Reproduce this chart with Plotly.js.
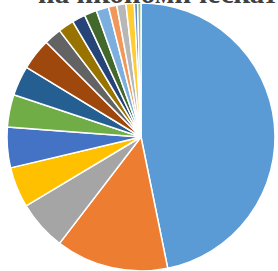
<!DOCTYPE html>
<html>
<head>
<meta charset="utf-8">
<script src="https://cdn.plot.ly/plotly-3.0.1.min.js"></script>
<style>
html,body{margin:0;padding:0;overflow:hidden;background:#fff;}
#chart{width:278px;height:271px;}
</style>
</head>
<body>
<div id="chart"></div>
<script>
const categories = [
  "Сектор 1","Сектор 2","Сектор 3","Сектор 4","Сектор 5","Сектор 6",
  "Сектор 7","Сектор 8","Сектор 9","Сектор 10","Сектор 11","Сектор 12",
  "Сектор 13","Сектор 14","Сектор 15","Сектор 16","Сектор 17","Сектор 18"
];
const values = [46.8, 13.6, 6.0, 4.9, 4.9, 3.9, 3.6, 3.8, 2.1, 1.9, 1.6, 1.5, 1.5, 1.0, 1.1, 1.0, 0.4, 0.4];
const colors = [
  "#5B9BD5","#ED7D31","#A5A5A5","#FFC000","#4472C4","#70AD47",
  "#255E91","#9E480E","#636363","#997300","#264478","#43682B",
  "#7CAFDD","#F1975A","#B7B7B7","#FFCD33","#698ED0","#8CC168"
];
const titleText = "на икономическата дейност";

const W = 278, H = 271;
const trace = {
  type: "pie",
  labels: categories,
  values: values,
  sort: false,
  direction: "clockwise",
  rotation: 0,
  textinfo: "none",
  hoverinfo: "label+percent",
  marker: {colors: colors, line: {color: "#ffffff", width: 1.5}},
  domain: {x: [7/W, 275/W], y: [0, 1 - 3/H]}
};
const layout = {
  width: W, height: H,
  margin: {l: 0, r: 0, t: 0, b: 0},
  paper_bgcolor: "#ffffff",
  showlegend: false,
  annotations: [{
    text: "<b>" + titleText + "</b>",
    xref: "paper", yref: "paper",
    x: 36/W, xanchor: "left",
    y: 1 - 11/H, yanchor: "bottom",
    showarrow: false,
    font: {family: "Liberation Serif, serif", size: 29, color: "#404040"}
  }]
};
Plotly.newPlot("chart", [trace], layout, {displayModeBar: false, staticPlot: true});
</script>
</body>
</html>
